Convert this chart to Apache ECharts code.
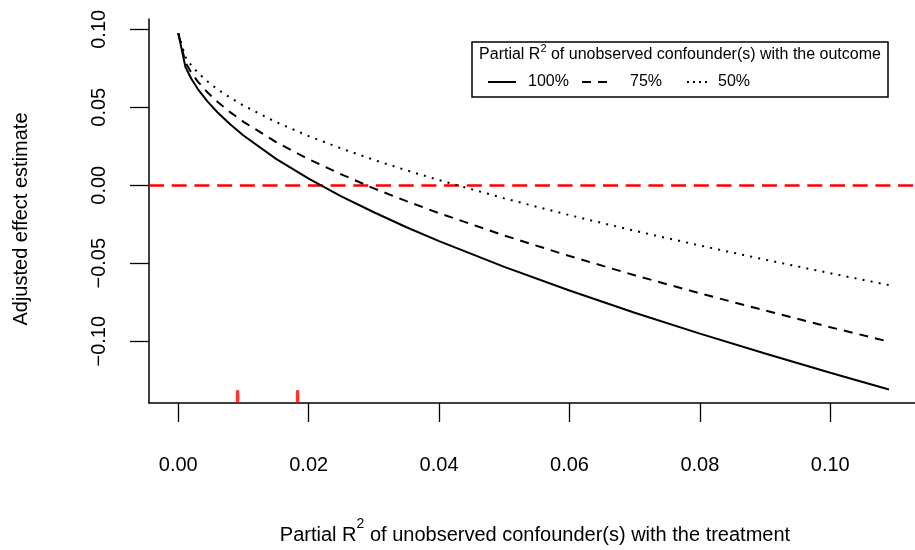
<!DOCTYPE html>
<html>
<head>
<meta charset="utf-8">
<script src="https://cdn.jsdelivr.net/npm/echarts@6/dist/echarts.min.js"></script>
<style>
  html, body { margin: 0; padding: 0; background: #fff; }
  #chart { width: 915px; height: 550px; }
</style>
</head>
<body>
<div id="chart"></div>
<script>
// partial R2 of confounder with the treatment (x)
const r2dz = [0, 0.0011, 0.002, 0.003, 0.0045, 0.006, 0.008, 0.01, 0.015, 0.02, 0.025,
  0.03, 0.035, 0.04, 0.05, 0.06, 0.07, 0.08, 0.09, 0.10, 0.109];
// adjusted estimate for partial R2 with the outcome = 100%, 75%, 50%
const est100 = [0.0975, 0.0758, 0.0683, 0.0617, 0.0536, 0.0468, 0.0389, 0.0319, 0.0169, 0.0042, -0.0071,
  -0.0173, -0.0269, -0.0358, -0.0523, -0.0675, -0.0817, -0.0951, -0.1079, -0.1202, -0.1309];
const est75 = [0.0975, 0.0787, 0.0722, 0.0665, 0.0595, 0.0536, 0.0467, 0.0407, 0.0277, 0.0167, 0.0070,
  -0.0020, -0.0102, -0.0179, -0.0322, -0.0454, -0.0577, -0.0693, -0.0803, -0.0910, -0.1003];
const est50 = [0.0975, 0.0822, 0.0768, 0.0722, 0.0665, 0.0616, 0.0560, 0.0511, 0.0405, 0.0315, 0.0236,
  0.0163, 0.0096, 0.0033, -0.0084, -0.0192, -0.0292, -0.0386, -0.0477, -0.0564, -0.0640];
// red rug marks on the x axis
const rugX = [0.0091, 0.0183];
const xTicks = [0, 0.02, 0.04, 0.06, 0.08, 0.10];
const yTicks = [-0.10, -0.05, 0, 0.05, 0.10];
const legendLabels = ['100%', '75%', '50%'];

const X_MIN = -0.00449, X_MAX = 0.1133;
const Y_MIN = -0.1396, Y_MAX = 0.1066;
const FONT = '"Liberation Sans", Arial, Helvetica, sans-serif';

const zip = (xs, ys) => xs.map((x, i) => [x, ys[i]]);

const chart = echarts.init(document.getElementById('chart'));

const lineSeries = (name, ys, dash, w) => ({
    name: name,
    type: 'line',
    data: zip(r2dz, ys),
    symbol: 'none',
    showSymbol: false,
    silent: true,
    lineStyle: { color: '#000', width: w, type: dash, cap: 'butt' },
    z: 3
});

const option = {
    animation: false,
    grid: { left: 149, top: 19, width: 768, height: 384, containLabel: false, outerBoundsMode: 'none' },
    xAxis: {
        type: 'value',
        min: X_MIN,
        max: X_MAX,
        splitLine: { show: false },
        axisLine: { onZero: false, lineStyle: { color: '#000', width: 1.5 } },
        axisTick: { customValues: xTicks, length: 19, lineStyle: { color: '#000', width: 1.3 } },
        axisLabel: {
            customValues: xTicks,
            formatter: v => v.toFixed(2),
            fontSize: 20, fontFamily: FONT, color: '#000', margin: 52
        }
    },
    yAxis: {
        type: 'value',
        min: Y_MIN,
        max: Y_MAX,
        splitLine: { show: false },
        axisLine: { onZero: false, lineStyle: { color: '#000', width: 1.5 } },
        axisTick: { customValues: yTicks, length: 19, lineStyle: { color: '#000', width: 1.3 } },
        axisLabel: {
            customValues: yTicks,
            rotate: 90,
            formatter: v => v.toFixed(2).replace('-', '\u2212'),
            fontSize: 20, fontFamily: FONT, color: '#000', margin: 40
        }
    },
    series: [
        Object.assign(lineSeries('100%', est100, 'solid', 2), {
            markLine: {
                silent: true,
                symbol: ['none', 'none'],
                label: { show: false },
                lineStyle: { color: '#ff0000', width: 2.5, type: [15, 7.7], cap: 'butt' },
                data: [{ yAxis: 0 }],
                z: 2
            }
        }),
        lineSeries('75%', est75, [9, 7], 2),
        lineSeries('50%', est50, [2, 6.2], 2),
        {
            type: 'scatter',
            data: rugX.map(x => [x, Y_MIN]),
            symbol: 'roundRect',
            symbolSize: [3.5, 13],
            symbolOffset: [0, -6.5],
            itemStyle: { color: '#ff0000' },
            clip: false,
            silent: true,
            z: 5
        }
    ],
    graphic: [
        {
            type: 'text', x: 21, y: 219, rotation: Math.PI / 2,
            style: { text: 'Adjusted effect estimate', font: '20px ' + FONT, fill: '#000', align: 'center', verticalAlign: 'middle' }
        },
        {
            type: 'text', x: 535, y: 531,
            style: {
                text: '{a|Partial R}{s|2}{a| of unobserved confounder(s) with the treatment}',
                align: 'center', verticalAlign: 'middle',
                rich: {
                    a: { fontSize: 20, fontFamily: FONT, fill: '#000', lineHeight: 28, verticalAlign: 'bottom' },
                    s: { fontSize: 14, fontFamily: FONT, fill: '#000', lineHeight: 14, verticalAlign: 'top' }
                }
            }
        },
        // legend box
        {
            type: 'rect', shape: { x: 472, y: 42, width: 416, height: 55 },
            style: { fill: '#fff', stroke: '#000', lineWidth: 1.5 }, z: 10
        },
        {
            type: 'text', x: 680, y: 53, z: 11,
            style: {
                text: '{a|Partial R}{s|2}{a| of unobserved confounder(s) with the outcome}',
                align: 'center', verticalAlign: 'middle',
                rich: {
                    a: { fontSize: 16, fontFamily: FONT, fill: '#000', lineHeight: 20, verticalAlign: 'bottom' },
                    s: { fontSize: 11, fontFamily: FONT, fill: '#000', lineHeight: 11, verticalAlign: 'top' }
                }
            }
        },
        { type: 'line', z: 11, shape: { x1: 488, y1: 82, x2: 516, y2: 82 }, style: { stroke: '#000', lineWidth: 2 } },
        { type: 'line', z: 11, shape: { x1: 582, y1: 82, x2: 607, y2: 82 }, style: { stroke: '#000', lineWidth: 2, lineDash: [9, 7] } },
        { type: 'line', z: 11, shape: { x1: 687, y1: 82, x2: 708, y2: 82 }, style: { stroke: '#000', lineWidth: 2, lineDash: [2, 4] } },
        { type: 'text', z: 11, x: 528, y: 82, style: { text: legendLabels[0], font: '16px ' + FONT, fill: '#000', verticalAlign: 'middle' } },
        { type: 'text', z: 11, x: 630, y: 82, style: { text: legendLabels[1], font: '16px ' + FONT, fill: '#000', verticalAlign: 'middle' } },
        { type: 'text', z: 11, x: 718, y: 82, style: { text: legendLabels[2], font: '16px ' + FONT, fill: '#000', verticalAlign: 'middle' } }
    ]
};

chart.setOption(option);
window.addEventListener('resize', () => chart.resize());
</script>
</body>
</html>
